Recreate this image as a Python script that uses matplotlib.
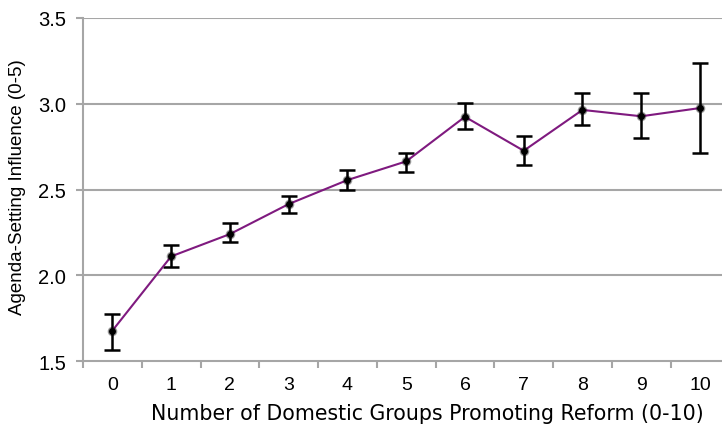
import numpy as np
import matplotlib.pyplot as plt

groups = np.arange(0, 11)
influence = [1.677, 2.110, 2.240, 2.415, 2.555, 2.664, 2.924, 2.726, 2.964, 2.927, 2.975]
err_lo = [0.113, 0.060, 0.048, 0.050, 0.056, 0.062, 0.069, 0.083, 0.088, 0.125, 0.262]
err_hi = [0.097, 0.066, 0.063, 0.049, 0.060, 0.049, 0.079, 0.086, 0.100, 0.137, 0.263]
yticks = [1.5, 2.0, 2.5, 3.0, 3.5]

fig = plt.figure(figsize=(7.22, 4.27), dpi=100)
ax = fig.add_axes([83 / 722, 1 - 362 / 427, 1 - 83 / 722, 343 / 427])

grid = '#a6a6a6'
for y in yticks[1:]:
    ax.axhline(y, color=grid, lw=1.5, zorder=0)

ax.errorbar(groups, influence, yerr=[err_lo, err_hi], fmt='none',
            ecolor='black', elinewidth=1.8, capsize=6, capthick=1.8, zorder=2)
ax.plot(groups, influence, '-', color='#7f1a7f', lw=1.5, zorder=3)
ax.plot(groups, influence, 'o', color='black', ms=6, alpha=0.3, zorder=4)
ax.plot(groups, influence, 'o', color='black', ms=4, zorder=5)

ax.set_xlim(-0.5, 10 + 22 / 58.7)
ax.set_ylim(1.5, 3.5)
ax.set_yticks(yticks)
ax.set_yticklabels(['%.1f' % v for v in yticks], family='Liberation Sans', fontsize=14.5)
ax.set_xticks(groups)
ax.set_xticklabels([str(g) for g in groups], family='Liberation Sans', fontsize=14)
ax.set_xticks(np.arange(-0.5, 10.5, 1), minor=True)
ax.tick_params(axis='x', which='major', length=0, pad=11)
ax.tick_params(axis='x', which='minor', length=5, color=grid, width=1.5, direction='out')
ax.tick_params(axis='y', length=5, color=grid, width=1.5, pad=7)

for side in ['top', 'right']:
    ax.spines[side].set_visible(False)
for side in ['left', 'bottom']:
    ax.spines[side].set_color(grid)
    ax.spines[side].set_linewidth(1.5)

ax.set_ylabel('Agenda-Setting Influence (0-5)', family='Liberation Sans', fontsize=13.5)
ax.yaxis.set_label_coords(-57 / 639, 0.51)
fig.text(427 / 722, 1 - 414 / 427, 'Number of Domestic Groups Promoting Reform (0-10)',
         family='DejaVu Sans', fontsize=14.8, ha='center', va='center')

fig.savefig('out.png', dpi=100)
